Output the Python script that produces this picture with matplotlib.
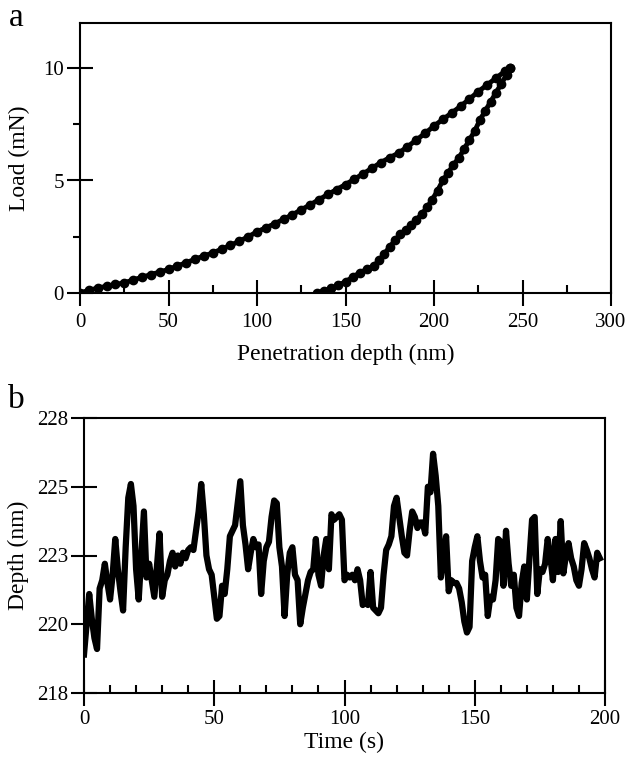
import numpy as np
import matplotlib
matplotlib.use("Agg")
import matplotlib.pyplot as plt
from matplotlib.ticker import MultipleLocator, FixedLocator

plt.rcParams['font.family'] = ['Liberation Serif', 'DejaVu Serif']

# (a) load-displacement curve
load_depth = [0, 5, 10, 15, 20, 25, 30, 35, 40, 45, 50, 55, 60, 65, 70, 75, 80, 85,
              90, 95, 100, 105, 110, 115, 120, 125, 130, 135, 140, 145, 150, 155,
              160, 165, 170, 175, 180, 185, 190, 195, 200, 205, 210, 215, 220, 225,
              230, 235, 240, 243]
load_force = [0.0, 0.12, 0.22, 0.30, 0.38, 0.45, 0.58, 0.70, 0.82, 0.93, 1.05, 1.20,
              1.35, 1.50, 1.65, 1.78, 1.95, 2.12, 2.30, 2.50, 2.72, 2.90, 3.08, 3.28,
              3.48, 3.70, 3.92, 4.15, 4.38, 4.60, 4.82, 5.06, 5.30, 5.55, 5.80, 6.02,
              6.22, 6.50, 6.80, 7.10, 7.42, 7.72, 8.00, 8.30, 8.62, 8.95, 9.25, 9.55,
              9.85, 10.0]
unload_depth = [243, 241, 238, 235, 232, 229, 226, 223, 220, 217, 214, 211, 208, 205,
                202, 199, 196, 193, 190, 187, 184, 181, 178, 175, 172, 169, 166, 162,
                158, 154, 150, 146, 142, 138, 134]
unload_force = [10.0, 9.7, 9.3, 8.9, 8.5, 8.1, 7.7, 7.2, 6.8, 6.4, 6.0, 5.7, 5.35, 5.0,
                4.55, 4.15, 3.8, 3.5, 3.25, 3.0, 2.8, 2.6, 2.35, 2.05, 1.75, 1.45, 1.2,
                1.05, 0.9, 0.7, 0.5, 0.35, 0.2, 0.1, 0.0]

# (b) depth during hold, one reading per second
hold_depth = [
    218.9, 220.0, 221.1, 220.2, 219.5, 219.1, 221.3, 221.6, 222.2, 221.5,
    220.9, 221.8, 223.1, 222.0, 221.2, 220.5, 222.8, 224.6, 225.1, 224.3,
    222.0, 220.9, 222.5, 224.1, 221.7, 222.2, 221.6, 221.0, 222.1, 223.3,
    221.0, 221.6, 221.8, 222.3, 222.6, 222.1, 222.5, 222.2, 222.6, 222.4,
    222.7, 222.8, 222.7, 223.4, 224.1, 225.1, 224.0, 222.5, 222.0, 221.8,
    221.0, 220.2, 220.3, 221.4, 221.1, 222.0, 223.2, 223.4, 223.6, 224.4,
    225.2, 223.6, 222.9, 222.0, 222.6, 223.1, 222.8, 222.9, 221.1, 222.3,
    222.8, 223.0, 223.9, 224.5, 224.4, 222.8, 222.1, 220.3, 221.8, 222.6,
    222.8, 221.8, 221.6, 220.0, 220.6, 221.1, 221.6, 221.9, 222.0, 223.1,
    221.8, 221.4, 222.5, 223.1, 222.0, 224.0, 223.8, 223.9, 224.0, 223.8,
    221.6, 221.8, 221.7, 221.8, 221.6, 222.0, 221.6, 220.7, 220.8, 220.7,
    221.9, 220.6, 220.5, 220.4, 220.6, 221.8, 222.7, 222.9, 223.2, 224.3,
    224.6, 223.9, 223.2, 222.6, 222.5, 223.4, 224.1, 223.9, 223.5, 223.7,
    223.7, 223.3, 225.0, 224.8, 226.2, 225.4, 224.3, 221.7, 222.4, 223.2,
    221.2, 221.6, 221.5, 221.5, 221.3, 220.8, 220.1, 219.7, 219.9, 222.3,
    222.8, 223.2, 222.3, 221.7, 221.8, 220.3, 221.0, 220.9, 221.6, 223.1,
    223.0, 221.4, 223.4, 222.2, 221.4, 221.8, 220.6, 220.3, 221.5, 222.1,
    220.9, 222.4, 223.8, 223.9, 221.1, 222.0, 221.9, 222.2, 223.1, 222.5,
    221.6, 223.1, 221.9, 223.75, 221.85, 222.5, 222.95, 222.4, 222.1, 221.6,
    221.4, 222.0, 222.95, 222.7, 222.4, 222.0, 221.7, 222.6, 222.4,
]
hold_time = list(range(len(hold_depth)))
depth_ticks = [217.5, 220, 222.5, 225, 227.5]
depth_ticklabels = ['218', '220', '223', '225', '228']

fig = plt.figure(figsize=(6.26, 7.59), dpi=100)


def style_axis(ax):
    for s in ax.spines.values():
        s.set_linewidth(1.5)
    ax.tick_params(which='major', direction='inout', length=19, width=1.5,
                   labelsize=15, pad=2)
    ax.tick_params(axis='x', which='major', pad=5)
    ax.tick_params(axis='x', which='minor', direction='in', length=6, width=1.5)


# panel a
ax1 = fig.add_axes([80/626, 1-293/759, 531/626, 270/759])
ax1.plot(load_depth, load_force, color='black', lw=3.5, marker='o', ms=6)
ax1.plot(unload_depth, unload_force, color='black', lw=3.5, marker='o', ms=6)
ax1.set_xlim(0, 300)
ax1.set_ylim(0, 12)
ax1.xaxis.set_major_locator(FixedLocator([0, 50, 100, 150, 200, 250, 300]))
ax1.xaxis.set_minor_locator(MultipleLocator(25))
ax1.yaxis.set_major_locator(FixedLocator([0, 5, 10]))
ax1.yaxis.set_minor_locator(FixedLocator([2.5, 7.5]))
style_axis(ax1)
ax1.tick_params(axis='y', which='minor', direction='out', length=5, width=1.5)
ax1.set_xlabel('Penetration depth (nm)', fontsize=17)
ax1.set_ylabel('Load (mN)', fontsize=17)
ax1.xaxis.set_label_coords(0.5, -0.19)
ax1.yaxis.set_label_coords(-0.095, 0.5)

# panel b
ax2 = fig.add_axes([84/626, 1-693/759, 521/626, 275/759])
ax2.plot(hold_time, hold_depth, color='black', lw=4.5, solid_joinstyle='round')
ax2.set_xlim(0, 200)
ax2.set_ylim(217.5, 227.5)
ax2.xaxis.set_major_locator(FixedLocator([0, 50, 100, 150, 200]))
ax2.xaxis.set_minor_locator(MultipleLocator(10))
ax2.set_yticks(depth_ticks)
ax2.set_yticklabels(depth_ticklabels)
style_axis(ax2)
ax2.tick_params(axis='x', which='major', pad=3)
ax2.set_xlabel('Time (s)', fontsize=17)
ax2.set_ylabel('Depth (nm)', fontsize=17)
ax2.xaxis.set_label_coords(0.5, -0.14)
ax2.yaxis.set_label_coords(-0.105, 0.5)

fig.text(9/626, 1-26/759, 'a', fontsize=24, ha='left', va='baseline')
fig.text(8/626, 1-408/759, 'b', fontsize=24, ha='left', va='baseline')

fig.savefig('out.png', dpi=100)
